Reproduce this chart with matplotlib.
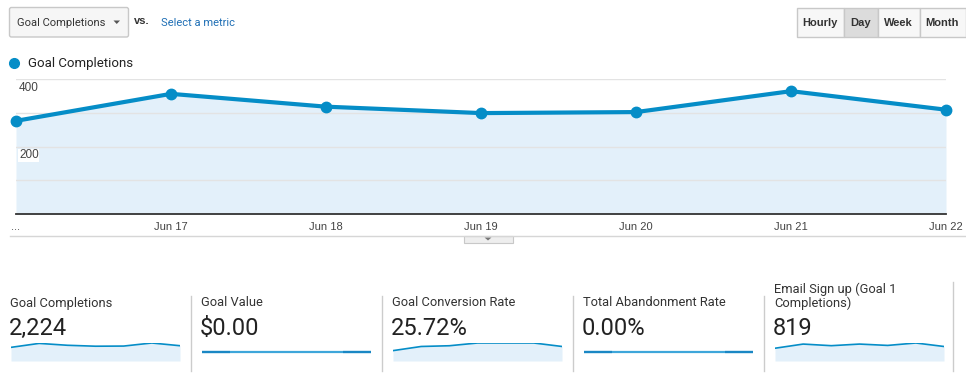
import numpy as np
import matplotlib.pyplot as plt
from matplotlib.patches import Rectangle, FancyBboxPatch, Polygon

W, H = 966, 384

# data
days = ['...', 'Jun 17', 'Jun 18', 'Jun 19', 'Jun 20', 'Jun 21', 'Jun 22']
goal_completions = [276, 356, 318, 299, 302, 364, 309]
goal_value = [0, 0, 0, 0, 0, 0, 0]
conversion_rate = [17.0, 23.8, 25.0, 29.5, 29.5, 29.5, 23.8]
abandonment_rate = [0, 0, 0, 0, 0, 0, 0]
email_signups = [95, 126, 114, 126, 116, 134, 108]
y_ticks = [200, 400]
grid_lines = [100, 200, 300, 400]

stat_titles = ['Goal Completions', 'Goal Value', 'Goal Conversion Rate',
               'Total Abandonment Rate', 'Email Sign up (Goal 1\nCompletions)']
stat_values = ['2,224', '$0.00', '25.72%', '0.00%', '819']
stat_series = [goal_completions, goal_value, conversion_rate, abandonment_rate, email_signups]

buttons = ['Hourly', 'Day', 'Week', 'Month']
button_edges = [796, 843, 877, 919, 965]

BLUE = '#058dc7'
FILL = '#e3f0fa'
UI = 'Liberation Sans'
RB = 'Roboto'


def box(x0, y0, x1, y1):
    # pixel rect (top-left origin) -> figure fraction
    return [x0 / W, 1 - y1 / H, (x1 - x0) / W, (y1 - y0) / H]


fig = plt.figure(figsize=(W / 100, H / 100), dpi=100)
fig.patch.set_facecolor('white')

bg = fig.add_axes([0, 0, 1, 1], zorder=0)
bg.set_xlim(0, W)
bg.set_ylim(H, 0)
bg.axis('off')

# ---- top controls ----
bg.add_patch(FancyBboxPatch((9.5, 7.5), 119, 29.5, boxstyle='round,pad=0,rounding_size=2',
                            fc='#f6f6f6', ec='#c8c8c8', lw=1))
bg.text(17, 22.5, 'Goal Completions', fontsize=8, family=RB, color='#333', va='center')
bg.add_patch(Polygon([[113.5, 20.5], [120, 20.5], [116.75, 24]], closed=True, fc='#555', ec='none'))
bg.text(134, 20.5, 'vs.', fontsize=8, family=UI, weight='bold', color='#333', va='center')
bg.text(161, 22.5, 'Select a metric', fontsize=8, family=RB, color='#1f6fb5', va='center')

for i, b in enumerate(buttons):
    x0, x1 = button_edges[i], button_edges[i + 1]
    fc = '#dcdcdc' if b == 'Day' else '#f7f7f7'
    bg.add_patch(Rectangle((x0 + 0.5, 7.5), x1 - x0, 29.5, fc=fc, ec='#c8c8c8', lw=1))
    bg.text((x0 + x1) / 2 + 0.5, 22.5, b, fontsize=8, family=UI, weight='bold',
            color='#333', ha='center', va='center')

# legend
bg.plot([13.5], [62.5], 'o', ms=7, color=BLUE)
bg.text(28, 63, 'Goal Completions', fontsize=9.5, family=RB, color='#222', va='center')

# ---- main chart ----
ax = fig.add_axes(box(16, 79, 946, 214), zorder=1)
ax.set_facecolor('none')
x = np.arange(len(days))
ax.fill_between(x, goal_completions, color=FILL, lw=0, zorder=1)
for g in grid_lines:
    ax.axhline(g, color='#e3e3e3', lw=1, zorder=2)
ax.plot(x, goal_completions, '-o', color=BLUE, lw=3, ms=7.5, clip_on=False, zorder=4)
ax.set_xlim(0, 6)
ax.set_ylim(0, 400)
for s in ['top', 'left', 'right']:
    ax.spines[s].set_visible(False)
ax.spines['bottom'].set_color('#333')
ax.spines['bottom'].set_linewidth(1.3)
ax.set_yticks([])
ax.set_xticks(x)
ax.set_xticklabels(days, fontsize=8, family=UI, color='#444')
ax.tick_params(axis='x', length=0, pad=5.5)
for v in y_ticks:
    ax.annotate(str(v), xy=(0, v), xytext=(3, -3), textcoords='offset pixels',
                fontsize=8.5, family=UI, color='#444', va='top', ha='left', zorder=5,
                bbox=dict(fc='white', ec='none', pad=0.4))

# bottom divider and collapse tab
bg.plot([10, 965], [235.5, 235.5], color='#d6d6d6', lw=1)
bg.add_patch(Rectangle((463.5, 235.5), 49, 7.5, fc='#eeeeee', ec='#c8c8c8', lw=0.8))
bg.add_patch(Polygon([[484.5, 237.5], [491.5, 237.5], [488, 240.5]], closed=True, fc='#777', ec='none'))

# ---- scorecards ----
for i in range(5):
    x0 = 10 + 191 * i
    if '\n' in stat_titles[i]:
        bg.text(x0, 296, stat_titles[i], fontsize=9.3, family=RB, color='#333',
                va='center', linespacing=1.05)
    else:
        bg.text(x0, 303, stat_titles[i], fontsize=9.3, family=RB, color='#333', va='center')
    bg.text(x0 - 1, 328.5, stat_values[i], fontsize=17, family=RB, color='#222', va='center')

    sx = fig.add_axes(box(11 + 191 * i, 343, 180 + 191 * i, 361), zorder=1)
    sx.set_facecolor('none')
    sx.axis('off')
    vals = stat_series[i]
    if max(vals) == 0:
        sx.plot(x, vals, color='#3ea6da', lw=1.6, solid_capstyle='butt')
        sx.plot(x[:2], vals[:2], color='#1a87c4', lw=1.6, solid_capstyle='butt')
        sx.plot(x[-2:], vals[-2:], color='#1a87c4', lw=1.6, solid_capstyle='butt')
        sx.set_ylim(-1, 1)
    else:
        sx.fill_between(x, vals, color=FILL, lw=0)
        sx.plot(x, vals, color=BLUE, lw=1.2)
        sx.set_ylim(0, max(vals))
    sx.set_xlim(0, 6)

for i in range(4):
    xs = 190.5 + 191 * i
    bg.plot([xs, xs], [296, 371], color='#cccccc', lw=1)
bg.plot([953, 953], [282, 371], color='#cccccc', lw=1)

fig.savefig('out.png', dpi=100)
